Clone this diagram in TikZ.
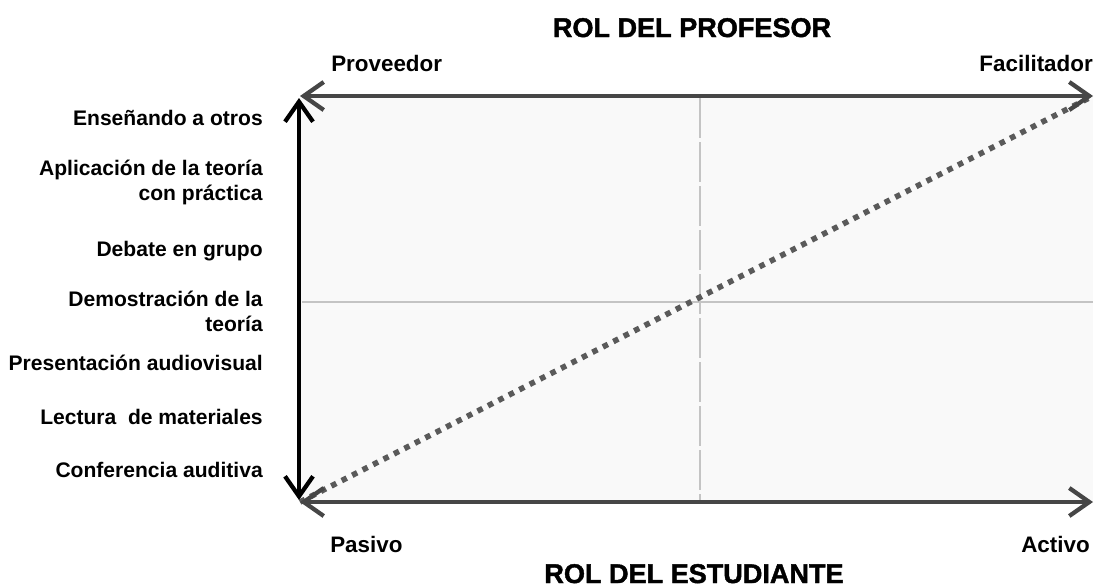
\documentclass[tikz,border=0pt]{standalone}
\usepackage{fontspec}
\setmainfont{Liberation Sans}
\newfontfamily\titlefont[BoldFeatures={FakeBold=1.6}]{Liberation Sans}
\usetikzlibrary{arrows.meta}
\definecolor{axisgray}{HTML}{464646}
\definecolor{dotgray}{HTML}{5A5A5A}
\definecolor{gridgray}{HTML}{C4C4C4}
\definecolor{panel}{HTML}{F9F9F9}
\tikzset{barbtip/.tip={Straight Barb[length=15pt,width=21pt,line width=3.2pt]}}
\begin{document}
\begin{tikzpicture}[x=0.75pt,y=-0.75pt,
  lbl/.style={font=\bfseries\fontsize{15.8}{18.75}\selectfont, inner sep=0pt, align=right},
  corner/.style={font=\bfseries\fontsize{16.8}{20}\selectfont, inner sep=0pt},
  title/.style={font=\titlefont\bfseries\fontsize{20.3}{24}\selectfont, inner sep=0pt},
  haxis/.style={draw=axisgray, line width=3.2pt, barbtip-barbtip},
  vaxis/.style={draw=black, line width=3pt, barbtip-barbtip},
  diag/.style={draw=dotgray, line width=4.2pt, dash pattern=on 4.2pt off 4.6pt},
  gridv/.style={draw=gridgray, line width=0.9pt, dash pattern=on 30pt off 3pt},
  gridh/.style={draw=gridgray, line width=0.9pt}]
\useasboundingbox (0,0) rectangle (1096,587);
\fill[white] (0,0) rectangle (1096,587);
% corners
\coordinate (tl) at (300,96);
\coordinate (tr) at (1093,96);
\coordinate (bl) at (300,502);
\coordinate (br) at (1093,502);
\coordinate (vt) at (299,98);
\coordinate (vb) at (299,500);
\coordinate (mt) at (700,98);
\coordinate (mb) at (700,502);
\coordinate (ml) at (302,302);
\coordinate (mr) at (1093,302);
\fill[panel] (tl) rectangle (br);
\draw[gridv] (mt) -- (mb);
\draw[gridh] (ml) -- (mr);
\draw[diag] (bl) -- (tr);
\draw[haxis] (tl) -- (tr);
\draw[haxis] (bl) -- (br);
\draw[vaxis] (vb) -- (vt);
% titles
\node[title, anchor=base] (tprof) at (692,37) {ROL DEL PROFESOR};
\node[title, anchor=base] (test) at (694,583) {ROL DEL ESTUDIANTE};
\node[corner, anchor=base west] (prov) at (331,71) {Proveedor};
\node[corner, anchor=base east] (fac) at (1093,71) {Facilitador};
\node[corner, anchor=base west] (pas) at (330,552) {Pasivo};
\node[corner, anchor=base east] (act) at (1090,552) {Activo};
% left labels
\node[lbl, anchor=base east] (l1) at (263,125) {Enseñando a otros};
\node[lbl, anchor=east] (l2) at (263,182) {Aplicación de la teoría\\con práctica};
\node[lbl, anchor=base east] (l3) at (263,256) {Debate en grupo};
\node[lbl, anchor=east] (l4) at (263,311) {Demostración de la\\teoría};
\node[lbl, anchor=base east] (l5) at (263,370) {Presentación audiovisual};
\node[lbl, anchor=base east] (l6) at (263,424) {Lectura \ de materiales};
\node[lbl, anchor=base east] (l7) at (263,477) {Conferencia auditiva};
\end{tikzpicture}
\end{document}
